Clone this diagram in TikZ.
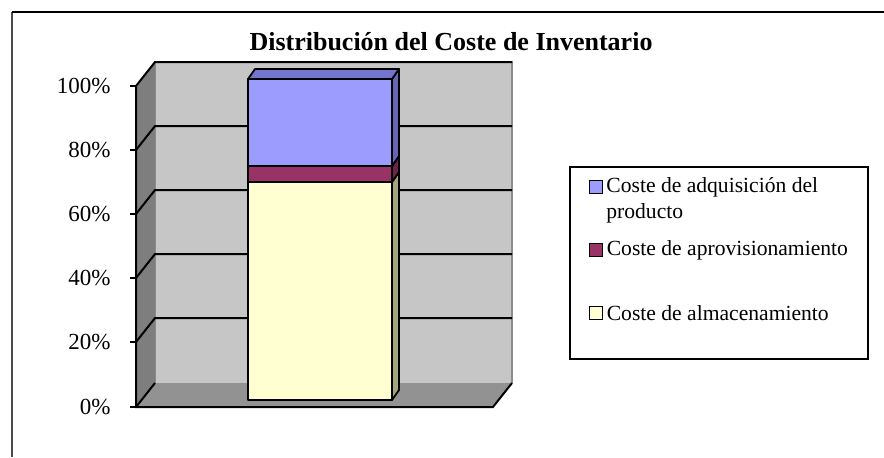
\documentclass[tikz,border=0pt]{standalone}
\usepackage{fontspec}
\setmainfont{Liberation Serif}
\usetikzlibrary{positioning}

\definecolor{wallback}{HTML}{C6C6C6}
\definecolor{wallside}{HTML}{7E7E7E}
\definecolor{wallfloor}{HTML}{929292}
\definecolor{adqfront}{HTML}{9C9CFF}
\definecolor{adqtop}{HTML}{7474CC}
\definecolor{adqside}{HTML}{6666B4}
\definecolor{aprfront}{HTML}{993366}
\definecolor{aprside}{HTML}{6A2448}
\definecolor{almfront}{HTML}{FFFFD2}
\definecolor{almside}{HTML}{A4A47E}

\begin{document}
\begin{tikzpicture}[
    x=0.5pt, y=-0.5pt,
    axislabel/.style={anchor=east, inner sep=0pt, font=\fontsize{11.5}{13}\selectfont},
    legendkey/.style={draw=black, line width=0.9pt, minimum size=6.5pt, inner sep=0pt},
    legendtext/.style={anchor=west, align=left, inner sep=0pt, font=\fontsize{10.8}{13}\selectfont},
    gridline/.style={line width=1pt},
    barface/.style={draw=black, line width=0.9pt, line join=round}
    ]
    \useasboundingbox (0,0) rectangle (884,457);

    %Frame
    \draw[line width=0.8pt, black!70] (12,457) -- (12,12);
    \draw[line width=0.8pt] (12,12) -- (884,12);

    %Title
    \node[font=\bfseries\fontsize{13}{15}\selectfont] (title) at (451,42) {Distribución del Coste de Inventario};

    %Walls
    \fill[wallback] (155,62) rectangle (512,383);
    \draw[black!45, line width=0.6pt] (155,383) -- (155,62) -- (512,62) -- (512,383);
    \fill[wallside] (136,86) -- (155,62) -- (155,383) -- (136,407) -- cycle;
    \fill[wallfloor] (136,407) -- (155,383) -- (512,383) -- (493,407) -- cycle;

    %Grid lines
    \draw[gridline] (136,86) -- (155,62) -- (512,62);
    \draw[gridline] (136,150) -- (155,126) -- (512,126);
    \draw[gridline] (136,214) -- (155,190) -- (512,190);
    \draw[gridline] (136,278) -- (155,254) -- (512,254);
    \draw[gridline] (136,342) -- (155,318) -- (512,318);
    \draw[gridline] (136,407) -- (155,383);

    %Axis and floor edges
    \draw[gridline] (136,86) -- (136,407) -- (493,407) -- (512,383);

    %Ticks
    \draw[line width=0.8pt] (130,86) -- (136,86);
    \draw[line width=0.8pt] (130,150) -- (136,150);
    \draw[line width=0.8pt] (130,214) -- (136,214);
    \draw[line width=0.8pt] (130,278) -- (136,278);
    \draw[line width=0.8pt] (130,342) -- (136,342);
    \draw[line width=0.8pt] (130,407) -- (136,407);

    %Axis labels
    \node[axislabel] (l100) at (111,86) {100\%};
    \node[axislabel] (l80) at (111,150) {80\%};
    \node[axislabel] (l60) at (111,214) {60\%};
    \node[axislabel] (l40) at (111,278) {40\%};
    \node[axislabel] (l20) at (111,342) {20\%};
    \node[axislabel] (l0) at (111,407) {0\%};

    %Bar
    \draw[barface, fill=almfront] (248,400) rectangle (392,182);
    \draw[barface, fill=almside] (392,400) -- (399,390) -- (399,172) -- (392,182) -- cycle;
    \draw[barface, fill=aprfront] (248,182) rectangle (392,166);
    \draw[barface, fill=aprside] (392,182) -- (399,172) -- (399,156) -- (392,166) -- cycle;
    \draw[barface, fill=adqfront] (248,166) rectangle (392,79);
    \draw[barface, fill=adqside] (392,166) -- (399,156) -- (399,69) -- (392,79) -- cycle;
    \draw[barface, fill=adqtop] (248,79) -- (255,69) -- (399,69) -- (392,79) -- cycle;

    %Legend
    \draw[line width=0.8pt] (570,167) rectangle (868,359);
    \node[legendkey, fill=adqfront] (k1) at (596,187) {};
    \node[legendkey, fill=aprfront] (k2) at (596,250) {};
    \node[legendkey, fill=almfront] (k3) at (596,313) {};
    \node[legendtext] (t1) at (606,200) {Coste de adquisición del\\producto};
    \node[legendtext] (t2) [right=1.5pt of k2] {Coste de aprovisionamiento};
    \node[legendtext] (t3) [right=1.5pt of k3] {Coste de almacenamiento};

\end{tikzpicture}
\end{document}
